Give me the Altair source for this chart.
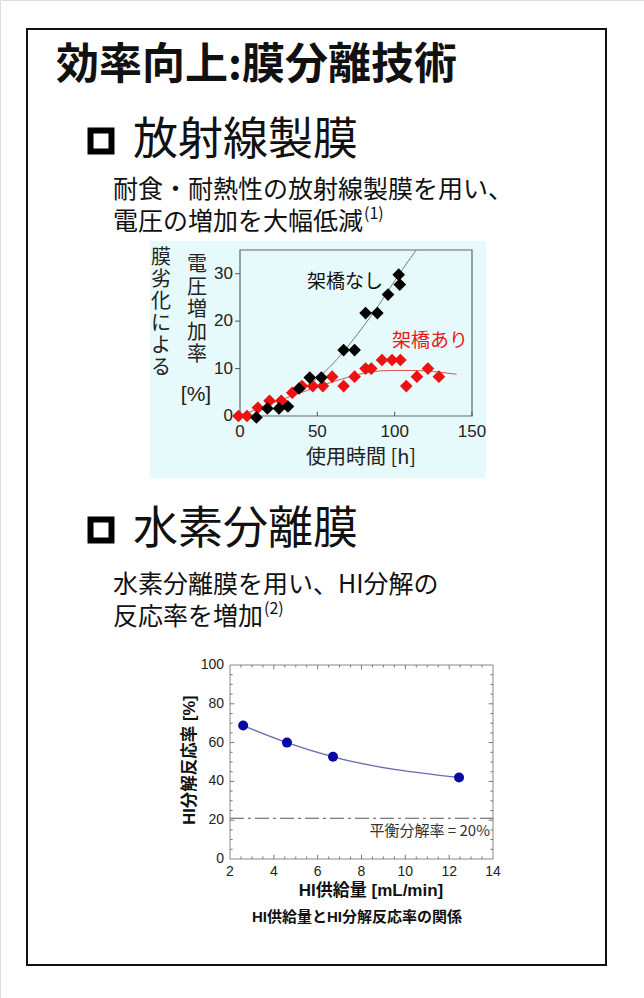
import altair as alt
import pandas as pd

JP = "Noto Sans CJK JP"
LAT = "Liberation Sans, Arial, Noto Sans CJK JP"

# ---------------- texts ----------------
TITLE = "効率向上:膜分離技術"
HEAD1 = "放射線製膜"
SUB1A = "耐食・耐熱性の放射線製膜を用い、"
SUB1B = "電圧の増加を大幅低減"
REF1 = "(1)"
HEAD2 = "水素分離膜"
SUB2A = "水素分離膜を用い、HI分解の"
SUB2B = "反応率を増加"
REF2 = "(2)"

# ---------------- chart 1 data (放射線製膜) ----------------
t_nashi = [10.6, 17.7, 25.2, 31.0, 38.2, 45.1, 52.6, 67.0, 74.1, 81.2, 88.8, 95.7, 102.6, 103.3]
v_nashi = [-0.3, 1.6, 1.6, 2.0, 5.8, 8.1, 8.1, 13.9, 13.9, 21.7, 21.7, 25.6, 29.8, 27.7]
t_ari = [-1.0, 4.5, 11.6, 19.1, 26.7, 33.8, 40.0, 47.1, 53.6, 59.6, 67.0, 74.1, 81.2,
         84.9, 91.8, 98.3, 103.7, 107.5, 114.4, 121.5, 128.6]
v_ari = [0.0, 0.0, 1.75, 3.2, 3.2, 4.9, 6.3, 6.3, 6.3, 8.3, 6.3, 8.3, 10.0,
         10.0, 11.8, 11.8, 11.8, 6.3, 8.3, 10.0, 8.3]
fit_nashi_t = [45, 50, 60, 70, 80, 90, 100, 110, 114]
fit_nashi_v = [6.8, 8.0, 11.0, 14.8, 19.0, 23.5, 28.5, 33.2, 35.0]
fit_ari_t = [0, 20, 40, 60, 80, 90, 100, 110, 120, 130, 140]
fit_ari_v = [0.0, 2.6, 5.0, 7.2, 9.0, 9.5, 9.6, 9.6, 9.5, 9.2, 8.8]
x1_ticks = [0, 50, 100, 150]
x1_labels = ["0", "50", "100", "150"]
y1_ticks = [0, 10, 20, 30]
y1_labels = ["0", "10", "20", "30"]
X1_TITLE = "使用時間 [h]"
Y1_COL1 = "膜\n劣\n化\nに\nよ\nる"
Y1_COL2 = "電\n圧\n増\n加\n率"
Y1_UNIT = "[%]"
LBL_NASHI = "架橋なし"
LBL_ARI = "架橋あり"

# ---------------- chart 2 data (水素分離膜) ----------------
hi_feed = [2.6, 4.6, 6.7, 12.45]
hi_rate = [68.8, 60.0, 52.7, 42.0]
eq_rate = [21]
x2_ticks = [2, 4, 6, 8, 10, 12, 14]
x2_labels = ["2", "4", "6", "8", "10", "12", "14"]
y2_ticks = [0, 20, 40, 60, 80, 100]
y2_labels = ["0", "20", "40", "60", "80", "100"]
x2_minor = [2.5, 3, 3.5, 4.5, 5, 5.5, 6.5, 7, 7.5, 8.5, 9, 9.5, 10.5, 11, 11.5, 12.5, 13, 13.5]
y2_minor = [5, 10, 15, 25, 30, 35, 45, 50, 55, 65, 70, 75, 85, 90, 95]
X2_TITLE = "HI供給量 [mL/min]"
Y2_TITLE = "HI分解反応率 [%]"
CAPTION = "HI供給量とHI分解反応率の関係"
EQ_LABEL = "平衡分解率 = 20%"


def txt(s, x, y, size, weight="normal", color="#111", align="left",
        baseline="middle", font=JP, **kw):
    return alt.Chart(pd.DataFrame({"s": [s]})).mark_text(
        align=align, baseline=baseline, fontSize=size, fontWeight=weight,
        color=color, font=font, **kw
    ).encode(text="s:N", x=alt.value(x), y=alt.value(y))


def box(x, x2, y, y2, fill="transparent", stroke="transparent", sw=0):
    return alt.Chart(pd.DataFrame({"a": [0]})).mark_rect(
        fill=fill, stroke=stroke, strokeWidth=sw
    ).encode(x=alt.value(x), x2=alt.value(x2), y=alt.value(y), y2=alt.value(y2))


def bullet(x, y):
    return alt.Chart(pd.DataFrame({"a": [0]})).mark_point(
        shape="square", filled=False, size=440, strokeWidth=6, color="#000", opacity=1
    ).encode(x=alt.value(x), y=alt.value(y))


def sx(f, s):
    return alt.X(f, scale=s, axis=None)


def sy(f, s):
    return alt.Y(f, scale=s, axis=None)


# ---------------- chart 1 ----------------
X1 = alt.Scale(domain=[0, 150], range=[240, 472], nice=False, zero=False)
Y1 = alt.Scale(domain=[0, 35], range=[416, 250], nice=False, zero=False)

frame1 = alt.Chart(pd.DataFrame({"x": [0], "x2": [150], "y": [0], "y2": [35]})).mark_rect(
    fill="transparent", stroke="#666", strokeWidth=1.2
).encode(x=sx("x:Q", X1), x2="x2:Q", y=sy("y:Q", Y1), y2="y2:Q")

xt1 = alt.Chart(pd.DataFrame({"x": x1_ticks, "y": [0] * 4, "y2": [0.9] * 4})).mark_rule(
    color="#555", strokeWidth=1
).encode(x=sx("x:Q", X1), y=sy("y:Q", Y1), y2="y2:Q")

yt1 = alt.Chart(pd.DataFrame({"x": [0] * 4, "x2": [-3.2] * 4, "y": y1_ticks})).mark_rule(
    color="#555", strokeWidth=1
).encode(x=sx("x:Q", X1), x2="x2:Q", y=sy("y:Q", Y1))

xl1 = alt.Chart(pd.DataFrame({"x": x1_ticks, "y": [0] * 4, "s": x1_labels})).mark_text(
    fontSize=17, font=LAT, color="#222", baseline="middle", align="center", dy=16
).encode(x=sx("x:Q", X1), y=sy("y:Q", Y1), text="s:N")

yl1 = alt.Chart(pd.DataFrame({"x": [0] * 4, "y": y1_ticks, "s": y1_labels})).mark_text(
    fontSize=17, font=LAT, color="#222", baseline="middle", align="right", dx=-7
).encode(x=sx("x:Q", X1), y=sy("y:Q", Y1), text="s:N")

fit_n = alt.Chart(pd.DataFrame({"t": fit_nashi_t, "v": fit_nashi_v})).mark_line(
    color="#777", strokeWidth=1, interpolate="monotone"
).encode(x=sx("t:Q", X1), y=sy("v:Q", Y1))

fit_a = alt.Chart(pd.DataFrame({"t": fit_ari_t, "v": fit_ari_v})).mark_line(
    color="#e05050", strokeWidth=1, interpolate="monotone"
).encode(x=sx("t:Q", X1), y=sy("v:Q", Y1))

pts_n = alt.Chart(pd.DataFrame({"t": t_nashi, "v": v_nashi})).mark_point(
    shape="diamond", filled=True, size=160, color="#000", opacity=1
).encode(x=sx("t:Q", X1), y=sy("v:Q", Y1))

pts_a = alt.Chart(pd.DataFrame({"t": t_ari, "v": v_ari})).mark_point(
    shape="diamond", filled=True, size=160, color="#ee1111", opacity=1
).encode(x=sx("t:Q", X1), y=sy("v:Q", Y1))

chart1 = alt.layer(frame1, xt1, yt1, xl1, yl1, fit_a, fit_n, pts_a, pts_n)

# ---------------- chart 2 ----------------
X2 = alt.Scale(domain=[2, 14], range=[230, 493], nice=False, zero=False)
Y2 = alt.Scale(domain=[0, 100], range=[859, 665], nice=False, zero=False)

frame2 = alt.Chart(pd.DataFrame({"x": [2], "x2": [14], "y": [0], "y2": [100]})).mark_rect(
    fill="transparent", stroke="#888", strokeWidth=1
).encode(x=sx("x:Q", X2), x2="x2:Q", y=sy("y:Q", Y2), y2="y2:Q")

tk_rows = []
for v in x2_ticks[1:-1]:
    tk_rows += [(v, v, 0, 2.2), (v, v, 100, 97.8)]
for v in x2_minor:
    tk_rows += [(v, v, 0, 1.3), (v, v, 100, 98.7)]
for v in y2_ticks[1:-1]:
    tk_rows += [(2, 2.2, v, v), (14, 13.8, v, v)]
for v in y2_minor:
    tk_rows += [(2, 2.12, v, v), (14, 13.88, v, v)]
tk_df = pd.DataFrame(tk_rows, columns=["x", "x2", "y", "y2"])
tick2 = alt.Chart(tk_df).mark_rule(color="#777", strokeWidth=1).encode(
    x=sx("x:Q", X2), x2="x2:Q", y=sy("y:Q", Y2), y2="y2:Q")

xl2 = alt.Chart(pd.DataFrame({"x": x2_ticks, "y": [0] * 7, "s": x2_labels})).mark_text(
    fontSize=14, font=LAT, color="#222", baseline="middle", align="center", dy=13
).encode(x=sx("x:Q", X2), y=sy("y:Q", Y2), text="s:N")

yl2 = alt.Chart(pd.DataFrame({"x": [2] * 6, "y": y2_ticks, "s": y2_labels})).mark_text(
    fontSize=14, font=LAT, color="#222", baseline="middle", align="right", dx=-6
).encode(x=sx("x:Q", X2), y=sy("y:Q", Y2), text="s:N")

eq_line = alt.Chart(pd.DataFrame({"x": [2], "x2": [14], "y": eq_rate})).mark_rule(
    color="#555", strokeWidth=1, strokeDash=[14, 4, 3, 4]
).encode(x=sx("x:Q", X2), x2="x2:Q", y=sy("y:Q", Y2))

hi_line = alt.Chart(pd.DataFrame({"f": hi_feed, "r": hi_rate})).mark_line(
    color="#6a6ab8", strokeWidth=1.3, interpolate="monotone"
).encode(x=sx("f:Q", X2), y=sy("r:Q", Y2))

hi_pts = alt.Chart(pd.DataFrame({"f": hi_feed, "r": hi_rate})).mark_circle(
    size=100, color="#0808a8", opacity=1
).encode(x=sx("f:Q", X2), y=sy("r:Q", Y2))

chart2 = alt.layer(frame2, tick2, xl2, yl2, eq_line, hi_line, hi_pts)

# ---------------- decorations & texts ----------------
deco = [
    box(27, 606, 29, 965, stroke="#111", sw=2),
    box(150, 486, 241, 478, fill="#e6f9fb"),
    txt(TITLE, 56, 66, 43, weight="bold"),
    bullet(101, 141),
    txt(HEAD1, 133, 141, 45),
    txt(SUB1A, 113, 190, 25),
    txt(SUB1B, 113, 222, 25),
    txt(REF1, 364, 214, 16),
    bullet(101, 530),
    txt(HEAD2, 133, 530, 45),
    txt(SUB2A, 113, 585, 25),
    txt(SUB2B, 113, 617, 25),
    txt(REF2, 264, 609, 16),
    txt(Y1_COL1, 161, 248, 20, baseline="top", lineBreak="\n", lineHeight=22, align="center", color="#222"),
    txt(Y1_COL2, 197, 255, 20, baseline="top", lineBreak="\n", lineHeight=22.5, align="center", color="#222"),
    txt(Y1_UNIT, 196, 395, 21, align="center", color="#222", font=LAT),
    txt(X1_TITLE, 361, 458, 20, align="center", color="#222"),
    txt(LBL_NASHI, 307, 282, 19, color="#111"),
    txt(LBL_ARI, 392, 341, 19, color="#e81818"),
    txt(EQ_LABEL, 490, 831, 15, align="right", color="#333"),
    txt(Y2_TITLE, 190, 760, 16.5, weight="bold", align="center", font=LAT, angle=270),
    txt(X2_TITLE, 371, 891, 17, weight="bold", align="center", font=LAT),
    txt(CAPTION, 357, 917, 15, weight="bold", align="center", font=LAT),
]

chart = alt.layer(
    deco[0], deco[1], chart1, chart2, *deco[2:]
).resolve_scale(x="independent", y="independent").properties(
    width=644, height=998, autosize="none", padding=0
).configure_view(stroke=None).configure(background="white")

chart.save("out.html", embed_options={"renderer": "svg", "actions": False})
